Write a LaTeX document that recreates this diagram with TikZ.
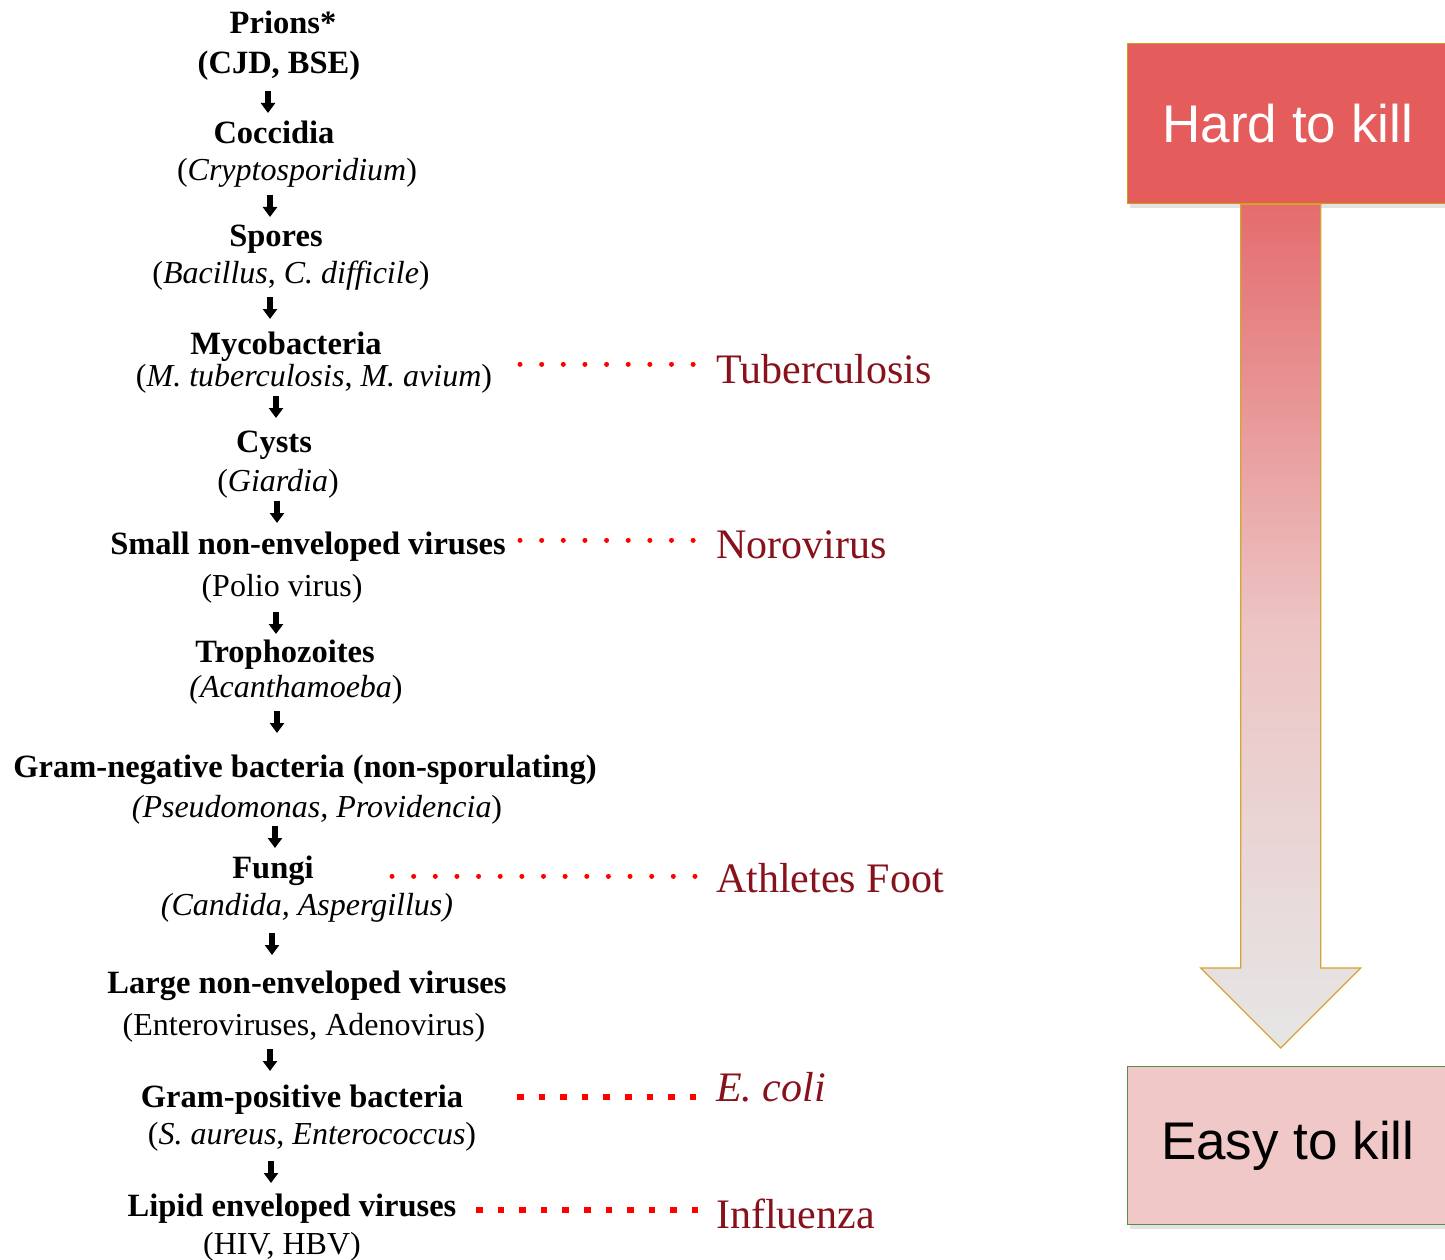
\documentclass[tikz,border=0pt]{standalone}
\usepackage{fontspec}
\setmainfont{Liberation Serif}
\newfontfamily\arialf{Liberation Sans}
\usetikzlibrary{arrows.meta,shadows}
\definecolor{labelred}{RGB}{135,18,28}
\definecolor{hardfill}{RGB}{229,92,92}
\definecolor{hardline}{RGB}{204,160,20}
\definecolor{easyfill}{RGB}{240,200,200}
\definecolor{easyline}{RGB}{90,140,75}
\definecolor{arrtop}{RGB}{228,108,110}
\definecolor{arrmid}{RGB}{237,196,196}
\definecolor{arrbot}{RGB}{230,230,230}
\definecolor{arrline}{RGB}{214,164,50}
\tikzset{
  head/.style={font=\fontsize{32.5}{38}\selectfont\bfseries, inner sep=0pt, anchor=base},
  sub/.style={font=\fontsize{32}{38}\selectfont, inner sep=0pt, anchor=base},
  smallarr/.style={line width=5.5pt, -{Triangle[width=14pt,length=10pt]}},
  rdots/.style={red, line width=5pt, line cap=round, dash pattern=on 0.01pt off 21.63pt},
  rsq/.style={red, line width=6.5pt, dash pattern=on 6.5pt off 15.1pt},
  dlabel/.style={font=\fontsize{42}{48}\selectfont, text=labelred, inner sep=0pt, anchor=base west},
  killbox/.style={rectangle, anchor=north west, minimum width=320pt, inner sep=0pt,
     font=\arialf\fontsize{53}{60}\selectfont, line width=1.4pt,
     drop shadow={opacity=0.22, shadow xshift=2pt, shadow yshift=-4pt}},
  bigarrow/.style={draw=arrline, line width=1.2pt, top color=arrtop, bottom color=arrbot, middle color=arrmid}
}
\begin{document}
\begin{tikzpicture}[x=1pt,y=-1pt]
\clip (0,0) rectangle (1445,1260);
\fill[white] (0,0) rectangle (1445,1260);

% ---- hierarchy list ----
\node[head] (prions) at (283,34) {Prions*};
\node[head] (cjd) at (279,74) {(CJD, BSE)};
\node[head] (cocc) at (274,144) {Coccidia};
\node[sub] (crypto) at (297,181) {(\textit{Cryptosporidium})};
\node[head] (spores) at (276,246) {Spores};
\node[sub] (bac) at (291,283) {(\textit{Bacillus}, \textit{C. difficile})};
\node[head] (myco) at (286,354) {Mycobacteria};
\node[sub] (mtb) at (314,386) {(\textit{M. tuberculosis}, \textit{M. avium})};
\node[head] (cysts) at (274,452) {Cysts};
\node[sub] (giar) at (278,491) {(\textit{Giardia})};
\node[head] (snev) at (308,554) {Small non-enveloped viruses};
\node[sub] (polio) at (282,596) {(Polio virus)};
\node[head] (troph) at (285,662) {Trophozoites};
\node[sub] (acan) at (296,697) {\textit{(Acanthamoeba})};
\node[head] (gneg) at (305,777) {Gram-negative bacteria (non-sporulating)};
\node[sub] (pseu) at (317,817) {\textit{(Pseudomonas, Providencia})};
\node[head] (fungi) at (273,878) {Fungi};
\node[sub] (cand) at (307,915) {\textit{(Candida, Aspergillus)}};
\node[head] (lnev) at (307,993) {Large non-enveloped viruses};
\node[sub] (entero) at (304,1035) {(Enteroviruses, Adenovirus)};
\node[head] (gpos) at (302,1107) {Gram-positive bacteria};
\node[sub] (saur) at (312,1144) {(\textit{S. aureus}, \textit{Enterococcus})};
\node[head] (lipid) at (292,1216) {Lipid enveloped viruses};
\node[sub] (hiv) at (282,1254) {(HIV, HBV)};

% ---- small arrows ----
\coordinate (a1) at (268,91);
\coordinate (a2) at (270,195);
\coordinate (a3) at (270,297);
\coordinate (a4) at (276,396);
\coordinate (a5) at (277,501);
\coordinate (a6) at (276,612);
\coordinate (a7) at (277,711);
\coordinate (a8) at (275,826);
\coordinate (a9) at (272,933);
\coordinate (a10) at (270,1049);
\coordinate (a11) at (271,1161);
\foreach \a in {a1,a2,a3,a4,a5,a6,a7,a8,a9,a10,a11}
  \draw[smallarr] (\a) -- ++(0,22);

% ---- example labels ----
\node[dlabel] (tb) at (716,383) {Tuberculosis};
\node[dlabel] (noro) at (716,558) {Norovirus};
\node[dlabel] (ath) at (716,892) {Athletes Foot};
\node[dlabel] (ecoli) at (716,1101) {\textit{E. coli}};
\node[dlabel] (flu) at (716,1228) {Influenza};

\coordinate (tbs) at (520,364);
\coordinate (nos) at (520,540);
\coordinate (ats) at (392,876);
\coordinate (ecs) at (517,1097);
\coordinate (fls) at (476,1210);
\draw[rdots] (tbs) -- (tbs -| 694,0);
\draw[rdots] (nos) -- (nos -| 694,0);
\draw[rdots] (ats) -- (ats -| 696,0);
\draw[rsq] (ecs) -- (ecs -| 697,0);
\draw[rsq] (fls) -- (fls -| 698,0);

% ---- right side scale ----
\node[killbox, draw=hardline, fill=hardfill, text=white, minimum height=160pt] (hard) at (1127,43) {Hard to kill};
\node[killbox, draw=easyline, fill=easyfill, text=black, minimum height=158pt] (easy) at (1127,1066) {Easy to kill};
\path (hard.south) ++(-7,0) coordinate (atop);
\path (easy.north) ++(-7,-18) coordinate (atip);
\path[bigarrow] ([xshift=-40pt]atop) -- ([xshift=40pt]atop)
   -- ([xshift=40pt,yshift=80pt]atip) -- ([xshift=80pt,yshift=80pt]atip)
   -- (atip) -- ([xshift=-80pt,yshift=80pt]atip) -- ([xshift=-40pt,yshift=80pt]atip) -- cycle;
\end{tikzpicture}
\end{document}
